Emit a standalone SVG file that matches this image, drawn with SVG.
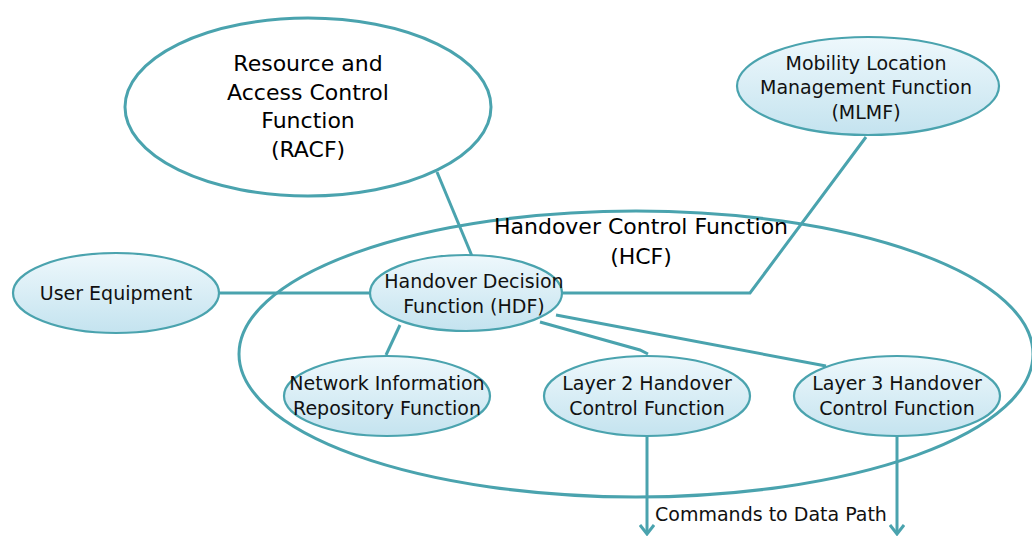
<svg xmlns="http://www.w3.org/2000/svg" width="1032" height="538" viewBox="0 0 1032 538">
<style>
.big{fill:#fff;stroke:#4AA3AE;stroke-width:3}
.hcf{fill:none;stroke:#4AA3AE;stroke-width:3}
.node{fill:url(#g);stroke:#4AA3AE;stroke-width:2.2}
.t{font-family:"DejaVu Sans",Verdana,sans-serif;font-size:19px;fill:#111;text-anchor:middle}
.tb{font-family:"DejaVu Sans",Verdana,sans-serif;font-size:22px;fill:#000;text-anchor:middle}
.c{fill:none;stroke:#4AA3AE;stroke-width:3}
</style>
<defs>
<linearGradient id="g" x1="0" y1="0" x2="0" y2="1">
<stop offset="0" stop-color="#EEF8FC"/>
<stop offset="1" stop-color="#C4E3EF"/>
</linearGradient>
<marker id="down" viewBox="0 0 16 12" refX="8" refY="10" markerWidth="16" markerHeight="12" markerUnits="userSpaceOnUse" orient="0">
<polyline points="1,1 8,10 15,1" fill="none" stroke="#4AA3AE" stroke-width="3"/>
</marker>
</defs>
<g id="racf">
<ellipse class="big" cx="308" cy="107" rx="183" ry="89"/>
<text class="tb" x="308" y="71">Resource and</text>
<text class="tb" x="308" y="100">Access Control</text>
<text class="tb" x="308" y="128">Function</text>
<text class="tb" x="308" y="157">(RACF)</text>
</g>
<g id="hcf">
<ellipse class="hcf" cx="636" cy="354" rx="397" ry="143"/>
<text class="tb" x="641" y="234">Handover Control Function</text>
<text class="tb" x="641" y="264">(HCF)</text>
</g>
<g id="connectors">
<line class="c" x1="437" y1="172" x2="472" y2="256"/>
<line class="c" x1="219" y1="293" x2="370" y2="293"/>
<polyline class="c" points="562,293 750,293 866,137"/>
<line class="c" x1="400" y1="325" x2="386" y2="355"/>
<polyline class="c" points="540,322 640,350 648,354"/>
<line class="c" x1="556" y1="315" x2="826" y2="366"/>
<line class="c" x1="647" y1="436" x2="647" y2="534" marker-end="url(#down)"/>
<line class="c" x1="897" y1="436" x2="897" y2="534" marker-end="url(#down)"/>
</g>
<g id="mlmf">
<ellipse class="node" cx="868" cy="86" rx="131" ry="49"/>
<text class="t" x="866" y="70">Mobility Location</text>
<text class="t" x="866" y="94">Management Function</text>
<text class="t" x="866" y="119">(MLMF)</text>
</g>
<g id="ue">
<ellipse class="node" cx="116" cy="293" rx="103" ry="40"/>
<text class="t" x="116" y="300">User Equipment</text>
</g>
<g id="hdf">
<ellipse class="node" cx="466" cy="293" rx="96" ry="38"/>
<text class="t" x="474" y="288">Handover Decision</text>
<text class="t" x="474" y="313">Function (HDF)</text>
</g>
<g id="nirf">
<ellipse class="node" cx="387" cy="396" rx="103" ry="40"/>
<text class="t" x="387" y="390">Network Information</text>
<text class="t" x="387" y="415">Repository Function</text>
</g>
<g id="l2">
<ellipse class="node" cx="647" cy="396" rx="103" ry="40"/>
<text class="t" x="647" y="390">Layer 2 Handover</text>
<text class="t" x="647" y="415">Control Function</text>
</g>
<g id="l3">
<ellipse class="node" cx="897" cy="396" rx="103" ry="40"/>
<text class="t" x="897" y="390">Layer 3 Handover</text>
<text class="t" x="897" y="415">Control Function</text>
</g>
<text class="t" x="771" y="521">Commands to Data Path</text>
</svg>
